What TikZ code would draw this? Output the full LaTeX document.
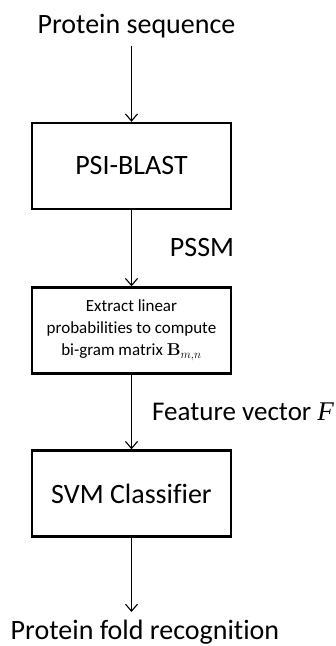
\documentclass[tikz,border=0pt]{standalone}
\usepackage[no-math]{fontspec}
\setmainfont[Ligatures=NoCommon]{Carlito}
\newfontfamily\serifit{Liberation Serif}
\usetikzlibrary{arrows.meta}
\begin{document}
\begin{tikzpicture}[x=1pt,y=-1pt,
  box/.style={draw,line width=2.4pt,minimum width=199pt,minimum height=86pt,inner sep=0pt},
  big/.style={font=\fontsize{28}{34}\selectfont,inner sep=0pt},
  arr/.style={line width=1.1pt,-{Straight Barb[length=7pt,width=12pt,line width=1.1pt]}}]
\useasboundingbox (0,0) rectangle (336,646);
\node[big,anchor=base] (ps) at (136.5,33) {Protein sequence};
\node[box,big] (psi) at (131.5,166) {PSI-BLAST};
\node[big,anchor=base] (pssm) at (202,256) {PSSM};
\node[box,align=center,font=\fontsize{17}{22}\selectfont] (ext) at (131.5,330.5)
  {Extract linear\\probabilities to compute\\bi-gram matrix $\mathbf{B}_{m,n}$};
\node[inner sep=0pt,font=\fontsize{27}{33}\selectfont,anchor=base west] (fv) at (152,420) {Feature vector {\serifit\itshape F}};
\node[box,big] (svm) at (131.5,493.5) {SVM Classifier};
\node[big,anchor=base] (pf) at (145,639) {Protein fold recognition};
\coordinate (top) at (131.5,46);
\coordinate (bot) at (131.5,612);
\draw[arr] (top) -- (psi.north);
\draw[arr] (psi.south) -- (ext.north);
\draw[arr] (ext.south) -- (svm.north);
\draw[arr] (svm.south) -- (bot);
\end{tikzpicture}
\end{document}
